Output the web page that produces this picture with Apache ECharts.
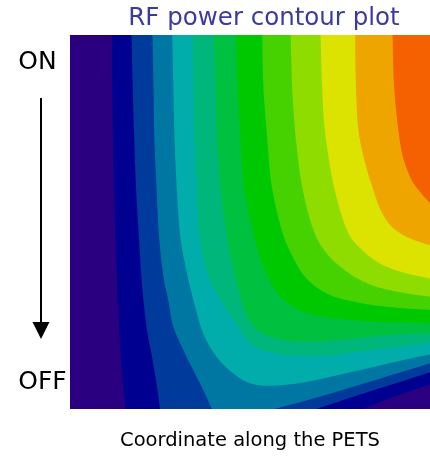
<!DOCTYPE html>
<html>
<head>
<meta charset="utf-8">
<script src="https://cdn.jsdelivr.net/npm/echarts@6/dist/echarts.min.js"></script>
<style>
  html, body { margin: 0; padding: 0; background: #ffffff; }
  #chart { width: 430px; height: 456px; }
</style>
</head>
<body>
<div id="chart"></div>
<script>
// ---- Data ----
// Axes: x = coordinate along the PETS (0..100 % of length), y = time from ON (0) to OFF (100)
const titleText = 'RF power contour plot';
const xAxisName = 'Coordinate along the PETS';
const topLabel = 'ON';
const bottomLabel = 'OFF';

// fill colour of each power band, lowest to highest
const levelColors = ['#2b0080', '#000090', '#003a9a', '#0077a2', '#00adab', '#00b67a',
                     '#00c040', '#00c800', '#46d200', '#8edc00', '#dce300', '#eea500', '#f56000'];

// contour k = lower edge of band k; each starts on the top edge and ends on the right edge
const contour1  = [[11.6,0],[11.8,17.8],[12.1,35.7],[12.6,53.5],[13.3,71.3],[14.3,89.1],[15.4,100],
                   [81.5,100],[88.9,97.1],[100,93.4]];
const contour2  = [[17.1,0],[17.4,13.4],[17.8,26.7],[18.3,40.1],[19.1,53.5],[20.0,66.8],[21.3,78.4],
                   [22.7,85.6],[24.1,93.6],[25.0,100],
                   [68.5,100],[78.7,96.7],[88.9,93.6],[100,90.2]];
const contour3  = [[22.9,0],[23.2,13.4],[23.4,26.7],[24.0,40.1],[24.7,53.5],[25.9,64.2],[27.3,70.9],
                   [28.7,78.0],[31.9,85.1],[34.7,90.5],[37.0,94.9],[39.4,100],
                   [56.9,100],[69.4,96.7],[83.3,92.7],[100,87.8]];
const contour4  = [[28.4,0],[28.7,13.4],[29.0,26.7],[29.6,40.1],[30.6,53.5],[32.2,62.4],[34.3,70.9],
                   [37.0,79.8],[40.7,86.0],[45.4,90.5],[50.0,93.1],[55.6,93.8],[64.8,92.9],
                   [78.7,90.0],[92.6,86.9],[100,85.4]];
const contour5  = [[34.0,0],[34.3,13.4],[34.5,26.7],[35.2,40.1],[35.9,53.5],[37.5,61.5],[39.4,66.8],
                   [42.1,71.3],[46.3,77.5],[50.0,82.4],[55.6,84.9],[64.8,85.7],[74.1,85.4],
                   [83.3,84.3],[92.6,83.2],[100,82.4]];
const contour6  = [[40.0,0],[40.4,13.4],[40.7,25.4],[41.7,40.1],[43.3,52.1],[44.9,60.6],[47.2,69.5],
                   [50.0,76.7],[55.6,80.7],[64.8,82.0],[74.1,81.6],[83.3,80.7],[92.6,80.0],[100,79.8]];
const contour7  = [[46.1,0],[46.5,13.4],[47.2,25.4],[48.2,40.1],[50.7,52.1],[52.8,59.7],[55.6,66.0],
                   [59.3,70.9],[64.8,74.0],[72.2,75.6],[81.5,76.5],[90.7,76.8],[100,77.1]];
const contour8  = [[53.4,0],[53.7,13.4],[54.6,25.4],[56.0,40.1],[58.8,52.1],[61.6,58.8],[65.7,65.1],
                   [72.2,69.5],[81.5,71.8],[90.7,72.9],[100,73.5]];
const contour9  = [[61.3,0],[61.7,13.4],[62.5,25.4],[64.4,40.1],[67.6,52.1],[71.3,58.4],[76.9,63.3],
                   [83.3,66.7],[90.7,68.6],[100,70.0]];
const contour10 = [[69.6,0],[70.0,13.4],[70.8,25.4],[73.2,40.1],[76.9,52.1],[80.6,57.0],[86.1,61.1],
                   [92.6,63.5],[100,65.1]];
const contour11 = [[79.2,0],[79.4,13.4],[80.1,25.4],[81.9,33.9],[83.8,40.1],[86.1,46.4],[88.9,50.8],
                   [92.6,53.5],[96.3,55.1],[100,56.2]];
const contour12 = [[89.6,0],[90.0,13.4],[91.2,25.4],[92.6,33.0],[94.9,38.8],[97.2,41.9],[100,45.0]];

const contours = [contour1, contour2, contour3, contour4, contour5, contour6,
                  contour7, contour8, contour9, contour10, contour11, contour12];

// ---- drawing helpers (pixel-space curve smoothing of the read contour lines) ----
function catmullRom(pts, n) {
  if (pts.length < 3) return pts.slice();
  const out = [];
  for (let i = 0; i < pts.length - 1; i++) {
    const p0 = pts[i - 1] || pts[i], p1 = pts[i], p2 = pts[i + 1], p3 = pts[i + 2] || pts[i + 1];
    for (let s = 0; s < n; s++) {
      const t = s / n, t2 = t * t, t3 = t2 * t;
      const f = function (a0, a1, a2, a3) {
        return 0.5 * (2 * a1 + (-a0 + a2) * t + (2 * a0 - 5 * a1 + 4 * a2 - a3) * t2 + (-a0 + 3 * a1 - 3 * a2 + a3) * t3);
      };
      out.push([f(p0[0], p1[0], p2[0], p3[0]), f(p0[1], p1[1], p2[1], p3[1])]);
    }
  }
  out.push(pts[pts.length - 1]);
  return out;
}
function splitOnBottom(pts) {
  const parts = [[pts[0]]];
  for (let i = 1; i < pts.length; i++) {
    if (pts[i][1] === 100 && pts[i - 1][1] === 100) parts.push([]);
    parts[parts.length - 1].push(pts[i]);
  }
  return parts;
}

// ---- Chart ----
const chart = echarts.init(document.getElementById('chart'), null, { renderer: 'canvas' });

chart.setOption({
  animation: false,
  backgroundColor: '#ffffff',
  grid: { left: 70, right: 0, top: 35, bottom: 46 },
  xAxis: {
    type: 'value', min: 0, max: 100,
    name: xAxisName, nameLocation: 'middle', nameGap: 22,
    nameTextStyle: { fontFamily: 'DejaVu Sans', fontSize: 19.5, color: '#000000', verticalAlign: 'top' },
    axisLine: { show: true, lineStyle: { color: '#aaa2dc', width: 1 } },
    axisTick: { show: false }, axisLabel: { show: false }, splitLine: { show: false }
  },
  yAxis: {
    type: 'value', min: 0, max: 100, inverse: true,
    axisLine: { show: false }, axisTick: { show: false }, axisLabel: { show: false }, splitLine: { show: false }
  },
  series: [{
    type: 'custom',
    coordinateSystem: 'cartesian2d',
    clip: true,
    silent: true,
    data: levelColors.map(function (c, i) { return [i]; }),
    renderItem: function (params, api) {
      const k = params.dataIndex;
      let pix = [];
      if (k === 0) {
        pix = [[0, 0], [100, 0], [100, 100], [0, 100]].map(function (p) { return api.coord(p); });
      } else {
        splitOnBottom(contours[k - 1]).forEach(function (part) {
          pix = pix.concat(catmullRom(part.map(function (p) { return api.coord(p); }), 10));
        });
        pix.push(api.coord([100, 0]));
      }
      return {
        type: 'polygon',
        shape: { points: pix },
        style: { fill: levelColors[k] }
      };
    }
  }],
  graphic: [
    { type: 'text', x: 264, y: 19, style: { text: titleText, fill: '#3a3aa0', font: '24.5px "DejaVu Sans"', align: 'center', verticalAlign: 'middle' } },
    { type: 'text', x: 37.5, y: 62.5, style: { text: topLabel, fill: '#000000', font: '25px "DejaVu Sans"', align: 'center', verticalAlign: 'middle' } },
    { type: 'text', x: 42.5, y: 382, style: { text: bottomLabel, fill: '#000000', font: '25px "DejaVu Sans"', align: 'center', verticalAlign: 'middle' } },
    { type: 'line', shape: { x1: 41, y1: 98, x2: 41, y2: 325 }, style: { stroke: '#000000', lineWidth: 2 } },
    { type: 'polygon', shape: { points: [[32.5, 322], [49.5, 322], [41, 339]] }, style: { fill: '#000000' } }
  ]
});
</script>
</body>
</html>
